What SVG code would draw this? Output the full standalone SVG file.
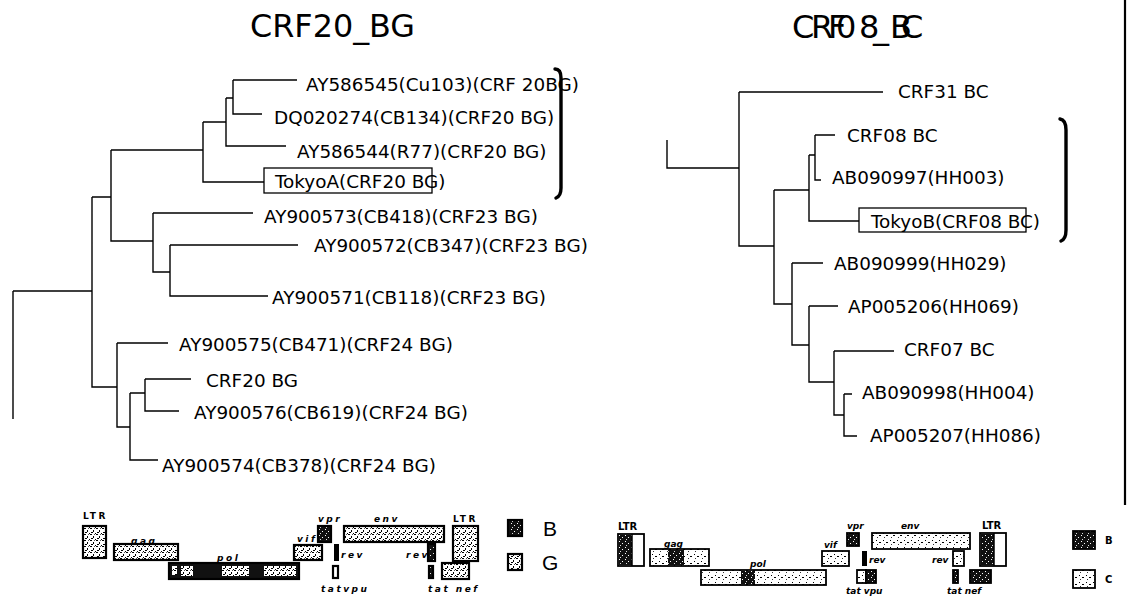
<svg xmlns="http://www.w3.org/2000/svg" width="1128" height="598" viewBox="0 0 1128 598">
<style>
.t{font-family:"DejaVu Sans","Liberation Sans",sans-serif;font-size:18.4px;fill:#000}
.ttl{font-family:"DejaVu Sans","Liberation Sans",sans-serif;font-size:32px;fill:#000}
.ln{fill:none;stroke:#000;stroke-width:1.4}
.br{fill:none;stroke:#000;stroke-width:3.4;stroke-linecap:round}
.box{fill:none;stroke:#000;stroke-width:1.3}
.g{stroke:#000;stroke-width:2.2}
.g2{stroke:#000;stroke-width:1.8}
.ml{font-family:"DejaVu Sans","Liberation Sans",sans-serif;font-size:9px;font-weight:bold;font-style:italic;letter-spacing:2.5px;fill:#000}
.mu{font-family:"DejaVu Sans","Liberation Sans",sans-serif;font-size:9px;font-weight:bold;letter-spacing:2.5px;fill:#000}
.rl{font-family:"DejaVu Sans","Liberation Sans",sans-serif;font-size:9px;font-style:italic;font-weight:bold;fill:#000}
.ru{font-family:"DejaVu Sans","Liberation Sans",sans-serif;font-size:10px;font-weight:bold;fill:#000}
.lg{font-family:"Liberation Sans","DejaVu Sans",sans-serif;font-size:21px;fill:#000}
</style>
<defs>
<pattern id="pG" width="6" height="6" patternUnits="userSpaceOnUse"><rect width="6" height="6" fill="#fff"/><rect x="0" y="0" width="2" height="1" fill="#000"/><rect x="3" y="2" width="1" height="2" fill="#000"/><rect x="1" y="4" width="2" height="1" fill="#000"/><rect x="5" y="5" width="1" height="1" fill="#000"/><rect x="4" y="0" width="1" height="1" fill="#555"/></pattern>
<pattern id="pB" width="6" height="6" patternUnits="userSpaceOnUse"><rect width="6" height="6" fill="#111"/><rect x="1" y="1" width="1" height="1" fill="#fff"/><rect x="4" y="3" width="1" height="1" fill="#fff"/><rect x="2" y="5" width="1" height="1" fill="#ddd"/></pattern>
<pattern id="pC" width="7" height="7" patternUnits="userSpaceOnUse"><rect width="7" height="7" fill="#fff"/><rect x="1" y="1" width="1" height="1" fill="#000"/><rect x="4" y="3" width="2" height="1" fill="#000"/><rect x="2" y="5" width="1" height="1" fill="#333"/></pattern>
</defs>

<g id="titles">
<text class="ttl" x="250" y="37" textLength="165" lengthAdjust="spacingAndGlyphs">CRF20_BG</text>
<text class="ttl" font-size="30" x="792 811 828 836 859 873 890 901" y="38">CRF08_BC</text>
</g>

<g id="connectors">
<path class="ln" d="M233,80 H297 M233,80 V114 H262 M226,98 H233 M226,98 V146 H286 M203,122 H226 M203,122 V182 H264 M111,150 H203 M111,150 V241 H153 M92,197 H111 M92,197 V387 H117 M13,291 H92 M13,291 V419 M153,213 H253 M153,213 V272 H170 M170,245 H298 M170,245 V296 H268 M117,343 H168 M117,343 V427 H130 M130,393 V460 H158 M130,393 H145 M145,379 H191 M145,379 V411 H179"/>
<path class="ln" d="M667,140 V168 H739 M739,92 H883 M739,92 V246 H774 M774,190 H809 M774,190 V304 H792 M809,155 H815 M809,155 V221 H859 M815,135 H835 M815,135 V180 H821 M792,263 H823 M792,263 V345 H809 M809,306 H838 M809,306 V382 H834 M834,351 H894 M834,351 V415 H844 M844,394 H852 M844,394 V436 H857"/>
</g>

<g id="left-leaves">
<g id="n-AY586545"><text class="t" x="306" y="91">AY586545(Cu103)(CRF 20BG)</text></g>
<g id="n-DQ020274"><text class="t" x="274" y="124">DQ020274(CB134)(CRF20 BG)</text></g>
<g id="n-AY586544"><text class="t" x="297" y="158">AY586544(R77)(CRF20 BG)</text></g>
<g id="n-TokyoA"><rect class="box" x="264" y="168" width="168" height="25"/><text class="t" x="275" y="188">TokyoA(CRF20 BG)</text></g>
<g id="n-AY900573"><text class="t" x="264" y="223">AY900573(CB418)(CRF23 BG)</text></g>
<g id="n-AY900572"><text class="t" x="314" y="252">AY900572(CB347)(CRF23 BG)</text></g>
<g id="n-AY900571"><text class="t" x="272" y="304">AY900571(CB118)(CRF23 BG)</text></g>
<g id="n-AY900575"><text class="t" x="179" y="351">AY900575(CB471)(CRF24 BG)</text></g>
<g id="n-CRF20BG"><text class="t" x="206" y="387">CRF20 BG</text></g>
<g id="n-AY900576"><text class="t" x="194" y="419">AY900576(CB619)(CRF24 BG)</text></g>
<g id="n-AY900574"><text class="t" x="162" y="472">AY900574(CB378)(CRF24 BG)</text></g>
<g id="bracket-left"><path class="br" d="M555,69 Q561,69 561,78 L561,188 Q561,196 556,198"/></g>
</g>

<g id="right-leaves">
<g id="n-CRF31BC"><text class="t" x="898" y="98">CRF31 BC</text></g>
<g id="n-CRF08BC"><text class="t" x="847" y="142">CRF08 BC</text></g>
<g id="n-AB090997"><text class="t" x="832" y="184">AB090997(HH003)</text></g>
<g id="n-TokyoB"><rect class="box" x="859" y="208" width="167" height="24"/><text class="t" x="871" y="228">TokyoB(CRF08 BC)</text></g>
<g id="n-AB090999"><text class="t" x="834" y="270">AB090999(HH029)</text></g>
<g id="n-AP005206"><text class="t" x="848" y="313">AP005206(HH069)</text></g>
<g id="n-CRF07BC"><text class="t" x="904" y="356">CRF07 BC</text></g>
<g id="n-AB090998"><text class="t" x="862" y="399">AB090998(HH004)</text></g>
<g id="n-AP005207"><text class="t" x="870" y="442">AP005207(HH086)</text></g>
<g id="bracket-right"><path class="br" d="M1060,119 Q1066,120 1066,130 L1066,230 Q1066,239 1061,241"/></g>
</g>

<line x1="1125" y1="0" x2="1125" y2="505" stroke="#000" stroke-width="2.2"/>

<g id="map-left">
<text class="mu" x="83" y="519">LTR</text>
<rect class="g" x="83" y="526" width="23" height="32" fill="url(#pG)"/>
<text class="ml" x="131" y="544">gag</text>
<rect class="g" x="114" y="544" width="64" height="16" fill="url(#pG)"/>
<text class="ml" x="217" y="561">pol</text>
<rect class="g" x="169" y="563" width="130" height="16" fill="#111"/>
<rect x="172" y="566" width="5" height="9" fill="url(#pG)"/>
<rect x="181" y="566" width="12" height="10" fill="url(#pG)"/>
<rect x="222" y="566" width="27" height="10" fill="url(#pG)"/>
<rect x="264" y="566" width="32" height="10" fill="url(#pG)"/>
<text class="ml" x="297" y="542">vif</text>
<rect class="g" x="294" y="545" width="28" height="15" fill="url(#pG)"/>
<text class="ml" x="318" y="522">vpr</text>
<rect class="g" x="318" y="526" width="13" height="16" fill="url(#pB)"/>
<text class="ml" x="374" y="522">env</text>
<rect class="g" x="344" y="526" width="100" height="16" fill="url(#pG)"/>
<rect x="334" y="544" width="5" height="17" fill="#000"/>
<text class="ml" x="341" y="558">rev</text>
<rect class="g" x="333" y="566" width="5" height="12" fill="#fff"/>
<text class="ml" x="321" y="592">tatvpu</text>
<text class="mu" x="453" y="522">LTR</text>
<rect class="g" x="453" y="526" width="25" height="35" fill="url(#pG)"/>
<text class="ml" x="406" y="558">rev</text>
<rect class="g" x="428" y="544" width="7" height="17" fill="url(#pB)"/>
<rect class="g" x="429" y="566" width="4" height="12" fill="url(#pB)"/>
<rect class="g" x="442" y="563" width="27" height="16" fill="url(#pG)"/>
<text class="ml" x="428" y="592">tat nef</text>
<rect class="g" x="508" y="520" width="14" height="16" fill="url(#pB)"/>
<text class="lg" x="543" y="536">B</text>
<rect class="g" x="508" y="554" width="14" height="16" fill="url(#pG)"/>
<text class="lg" x="542" y="570">G</text>
</g>

<g id="map-right">
<text class="ru" x="618" y="530">LTR</text>
<rect class="g2" x="618" y="534" width="26" height="32" fill="#fff"/>
<rect x="619" y="535" width="13" height="30" fill="url(#pB)"/>
<line x1="632" y1="534" x2="632" y2="566" stroke="#000" stroke-width="1.5"/>
<text class="rl" x="664" y="547">gag</text>
<rect class="g2" x="650" y="549" width="59" height="17" fill="url(#pC)"/>
<rect x="668" y="550" width="16" height="15" fill="url(#pB)"/>
<text class="rl" x="750" y="567">pol</text>
<rect class="g2" x="701" y="570" width="125" height="15" fill="url(#pC)"/>
<rect x="741" y="571" width="14" height="13" fill="url(#pB)"/>
<text class="rl" x="824" y="548">vif</text>
<rect class="g2" x="822" y="551" width="27" height="15" fill="url(#pC)"/>
<text class="rl" x="847" y="529">vpr</text>
<rect class="g2" x="847" y="533" width="12" height="13" fill="url(#pB)"/>
<text class="rl" x="901" y="529">env</text>
<rect class="g2" x="872" y="533" width="98" height="16" fill="url(#pC)"/>
<rect x="862" y="551" width="5" height="15" fill="#000"/>
<text class="rl" x="869" y="563">rev</text>
<rect class="g2" x="857" y="570" width="9" height="13" fill="url(#pC)"/>
<rect class="g2" x="866" y="570" width="10" height="13" fill="url(#pB)"/>
<text class="rl" x="846" y="594">tat vpu</text>
<text class="rl" x="932" y="563">rev</text>
<rect class="g2" x="953" y="551" width="11" height="15" fill="url(#pC)"/>
<text class="ru" x="982" y="529">LTR</text>
<rect class="g2" x="980" y="533" width="26" height="33" fill="#fff"/>
<rect x="981" y="534" width="13" height="31" fill="url(#pB)"/>
<line x1="994" y1="533" x2="994" y2="566" stroke="#000" stroke-width="1.5"/>
<rect class="g2" x="953" y="570" width="5" height="13" fill="url(#pB)"/>
<rect class="g2" x="970" y="570" width="21" height="13" fill="url(#pB)"/>
<text class="rl" x="947" y="594">tat  nef</text>
<rect class="g2" x="1073" y="531" width="22" height="18" fill="url(#pB)"/>
<text class="ru" x="1105" y="544">B</text>
<rect class="g2" x="1073" y="570" width="22" height="18" fill="url(#pC)"/>
<text class="ru" x="1105" y="583">C</text>
</g>
</svg>
